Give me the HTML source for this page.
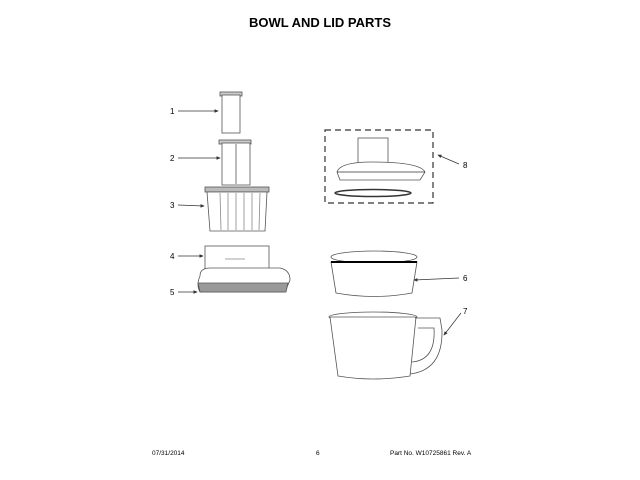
<!DOCTYPE html>
<html><head><style>
body{margin:0;background:#fff;}
svg{display:block;font-family:"Liberation Sans",sans-serif;}
</style></head><body>
<svg width="640" height="480" viewBox="0 0 640 480">
<defs><marker id="a" markerWidth="6" markerHeight="6" refX="5" refY="3" orient="auto"><path d="M0,0.5 L6,3 L0,5.5z" fill="#333"/></marker></defs>
<text x="320" y="27" text-anchor="middle" font-size="13" font-weight="bold" fill="#000">BOWL AND LID PARTS</text>
<g stroke="#555" fill="#fff" stroke-width="0.8">
<!-- 1 -->
<rect x="220" y="92" width="22" height="4" fill="#ccc"/>
<rect x="222" y="95" width="18" height="38"/>
<!-- 2 -->
<rect x="219" y="140" width="32" height="4" fill="#ccc"/>
<rect x="222" y="143" width="28" height="42"/>
<line x1="236" y1="144" x2="236" y2="184"/>
<!-- 3 -->
<rect x="205" y="187" width="64" height="5" fill="#bbb"/>
<path d="M207,192 L267,192 L265,231 L210,231Z"/>
<g stroke="#888"><line x1="220" y1="193" x2="221" y2="230"/><line x1="228" y1="193" x2="228" y2="230"/><line x1="236" y1="193" x2="236" y2="230"/><line x1="244" y1="193" x2="244" y2="230"/><line x1="252" y1="193" x2="252" y2="230"/><line x1="260" y1="193" x2="259" y2="230"/></g>
<!-- 4/5 -->
<rect x="205" y="246" width="64" height="32"/>
<line x1="225" y1="259" x2="245" y2="259" stroke="#888"/>
<path d="M200,276 Q200,268 210,268 L280,268 Q290,270 290,280 L285,292 L200,292 Q196,285 200,276Z"/>
<path d="M198,283 L288,283 L286,292 L200,292Z" fill="#999"/>
<!-- 8 dashed box -->
<rect x="325" y="130" width="108" height="73" fill="none" stroke="#333" stroke-dasharray="6,4" stroke-width="1.2"/>
<rect x="358" y="138" width="30" height="30"/>
<path d="M337,172 Q340,162 372,162 Q420,162 425,172 L420,180 L340,180Z"/>
<path d="M337,172 L425,172" stroke="#333"/>
<ellipse cx="373" cy="193" rx="38" ry="3.5" stroke="#333" stroke-width="1.5"/>
<!-- 6 -->
<ellipse cx="374" cy="257" rx="43" ry="6"/>
<path d="M331,262 L417,262 L412,293 Q374,300 336,293Z"/>
<path d="M331,262 L417,262" stroke="#000" stroke-width="2"/>
<!-- 7 -->
<ellipse cx="373" cy="317" rx="44" ry="5"/>
<path d="M330,317 L416,317 L410,376 Q373,382 338,376Z"/>
<path d="M415,318 L440,318 L442,330 Q443,370 410,374" fill="none"/>
<path d="M418,328 L434,328 Q436,360 412,362" fill="none"/>
</g>
<g font-size="8" fill="#000">
<text x="170" y="114">1</text><text x="170" y="161">2</text><text x="170" y="208">3</text>
<text x="170" y="259">4</text><text x="170" y="295">5</text>
<text x="463" y="168">8</text><text x="463" y="281">6</text><text x="463" y="314">7</text>
</g>
<g stroke="#333" stroke-width="0.7" fill="none" marker-end="url(#a)">
<line x1="178" y1="111" x2="218" y2="111"/>
<line x1="178" y1="158" x2="220" y2="158"/>
<line x1="178" y1="205" x2="204" y2="206"/>
<line x1="178" y1="256" x2="203" y2="256"/>
<line x1="178" y1="292" x2="197" y2="292"/>
<line x1="459" y1="164" x2="438" y2="155"/>
<line x1="459" y1="278" x2="414" y2="280"/>
<line x1="461" y1="313" x2="444" y2="335"/>
</g>
<g font-size="6.5" fill="#000">
<text x="152" y="455">07/31/2014</text>
<text x="316" y="455">6</text>
<text x="390" y="455">Part No. W10725861  Rev. A</text>
</g>
</svg>
</body></html>
